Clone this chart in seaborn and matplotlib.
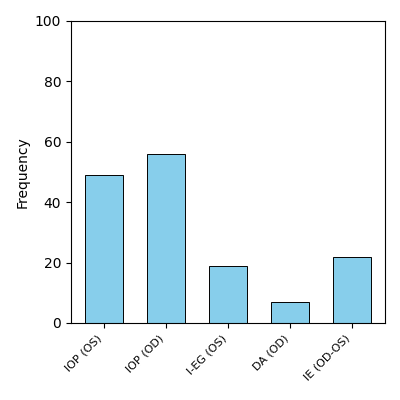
import matplotlib
matplotlib.use("Agg")
import matplotlib.pyplot as plt
import seaborn as sns
import pandas as pd

categories = ["IOP (OS)", "IOP (OD)", "I-EG (OS)", "DA (OD)", "IE (OD-OS)"]
values = [49, 56, 19, 7, 22]

df = pd.DataFrame({"cat": categories, "freq": values})

fig, ax = plt.subplots(figsize=(4, 4), dpi=100)
sns.barplot(data=df, x="cat", y="freq", color="skyblue", saturation=1,
            edgecolor="black", linewidth=0.7, width=0.6, ax=ax)
ax.set_ylim(0, 100)
ax.set_xlim(-0.53, 4.53)
ax.set_xlabel("")
ax.set_ylabel("Frequency")
ax.set_xticks(range(len(categories)))
ax.set_xticklabels(categories, rotation=45, ha="right", fontsize=8)
fig.subplots_adjust(left=0.1775, right=0.9625, top=0.9475, bottom=0.1925)
fig.savefig("out.png", dpi=100)
